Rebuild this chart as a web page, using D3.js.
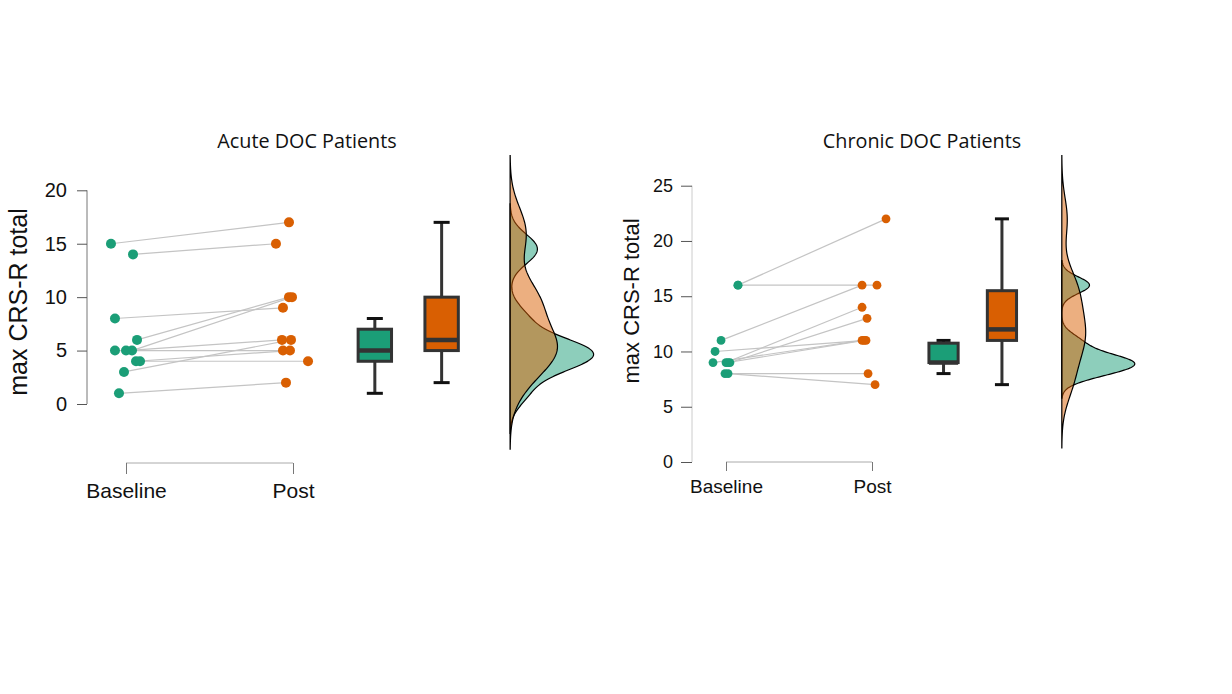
<!DOCTYPE html>
<html>
<head>
<meta charset="utf-8">
<script src="https://cdn.jsdelivr.net/npm/d3@7"></script>
<style>
body { margin: 0; background: #fff; }
text { font-family: "Liberation Sans", Arial, sans-serif; }
</style>
</head>
<body>
<div class="chart"></div>
<script>
var groups = ["Baseline", "Post"];

// acute patients, one entry per patient (baseline -> post)
var acuteBaseline = [15, 14, 8, 6, 5, 5, 5, 4, 4, 3, 1];
var acutePost     = [17, 15, 9, 10, 10, 6, 5, 5, 4, 6, 2];
var acuteJitterBaseline = [-0.090, 0.042, -0.066, 0.066, 0.036, 0, -0.066, 0.060, 0.084, -0.012, -0.042];
var acuteJitterPost     = [-0.024, -0.102, -0.060, -0.024, -0.006, -0.066, -0.060, -0.018, 0.090, -0.012, -0.042];
var acuteTicks = [0, 5, 10, 15, 20];

// chronic patients
var chronicBaseline = [16, 16, 11, 10, 9, 9, 9, 9, 8, 8];
var chronicPost     = [22, 16, 16, 11, 14, 13, 11, 11, 8, 7];
var chronicJitterBaseline = [0.082, 0.082, -0.034, -0.075, 0, 0.027, -0.089, 0.014, -0.007, 0.014];
var chronicJitterPost     = [0.096, 0.034, -0.068, -0.041, -0.068, -0.034, -0.068, -0.055, -0.027, 0.021];
var chronicTicks = [0, 5, 10, 15, 20, 25];

var green = "#1b9e77", orange = "#d95f02";

var svg = d3.select(".chart").append("svg")
    .attr("width", 1232)
    .attr("height", 694);

// R style bw.nrd0 + gaussian kde, cut = 3
function kde(values) {
    var s = values.slice().sort(d3.ascending);
    var iqr = d3.quantile(s, 0.75) - d3.quantile(s, 0.25);
    var bw = 0.9 * Math.min(d3.deviation(s), iqr / 1.34) * Math.pow(s.length, -0.2);
    var lo = s[0] - 3 * bw, hi = s[s.length - 1] + 3 * bw;
    var out = [];
    for (var i = 0; i <= 300; i++) {
        var v = lo + (hi - lo) * i / 300;
        var dens = d3.sum(s, function(d) {
            var z = (v - d) / bw;
            return Math.exp(-0.5 * z * z);
        }) / (s.length * bw * Math.sqrt(2 * Math.PI));
        out.push([v, dens]);
    }
    return out;
}

function boxStats(values) {
    var s = values.slice().sort(d3.ascending);
    var q1 = d3.quantile(s, 0.25), med = d3.quantile(s, 0.5), q3 = d3.quantile(s, 0.75);
    var iqr = q3 - q1;
    return {
        q1: q1, med: med, q3: q3,
        lo: d3.min(s.filter(function(d) { return d >= q1 - 1.5 * iqr; })),
        hi: d3.max(s.filter(function(d) { return d <= q3 + 1.5 * iqr; }))
    };
}

function panel(cfg) {
    var g = svg.append("g");
    var x = d3.scaleLinear().domain([0, 1]).range(cfg.xRange);
    var y = d3.scaleLinear().domain([0, d3.max(cfg.ticks)]).range(cfg.yRange);
    var unit = x(1) - x(0);

    // title
    g.append("text")
        .attr("x", cfg.titleX).attr("y", 148)
        .attr("text-anchor", "middle")
        .style("font-family", "'Open Sans', sans-serif")
        .style("font-size", "19.8px")
        .attr("fill", "#111")
        .text(cfg.title);

    // y axis
    var yAxis = g.append("g")
        .attr("transform", "translate(" + cfg.yAxisX + ",0)")
        .call(d3.axisLeft(y).tickValues(cfg.ticks).tickSize(cfg.tickLen).tickPadding(cfg.tickPad));
    yAxis.select(".domain").attr("stroke", cfg.yDomainColor).attr("d", "M0," + y(0) + "V" + y(d3.max(cfg.ticks)));
    yAxis.selectAll(".tick line").attr("stroke", "#555");
    yAxis.selectAll("text").style("font-size", cfg.tickFont + "px").attr("fill", "#111");

    g.append("text")
        .attr("transform", "translate(" + cfg.yLabelX + "," + cfg.yLabelY + ") rotate(-90)")
        .attr("text-anchor", "middle")
        .style("font-size", cfg.yLabelFont + "px")
        .attr("fill", "#111")
        .text("max CRS-R total");

    // x axis
    var xs = d3.scalePoint().domain(groups).range([x(0), x(1)]);
    var xAxis = g.append("g")
        .attr("transform", "translate(0," + cfg.xAxisY + ")")
        .call(d3.axisBottom(xs).tickSize(cfg.xTickLen).tickPadding(cfg.xTickPad).tickSizeOuter(0));
    xAxis.select(".domain").attr("stroke", "#aaa").attr("d", "M" + x(0) + ",0H" + x(1));
    xAxis.selectAll(".tick line").attr("stroke", "#777");
    xAxis.selectAll("text").style("font-size", cfg.xFont + "px").attr("fill", "#111");

    // paired lines
    var pairs = cfg.base.map(function(b, i) {
        return {b: b, p: cfg.post[i], jb: cfg.jb[i], jp: cfg.jp[i]};
    });
    g.selectAll(".pair").data(pairs).enter().append("line")
        .attr("x1", function(d) { return x(0 + d.jb); })
        .attr("y1", function(d) { return y(d.b); })
        .attr("x2", function(d) { return x(1 + d.jp); })
        .attr("y2", function(d) { return y(d.p); })
        .attr("stroke", "#c4c4c4").attr("stroke-width", 1.2);

    g.selectAll(".pb").data(pairs).enter().append("circle")
        .attr("cx", function(d) { return x(0 + d.jb); })
        .attr("cy", function(d) { return y(d.b); })
        .attr("r", cfg.r).attr("fill", green);
    g.selectAll(".pp").data(pairs).enter().append("circle")
        .attr("cx", function(d) { return x(1 + d.jp); })
        .attr("cy", function(d) { return y(d.p); })
        .attr("r", cfg.r).attr("fill", orange);

    // boxplots
    [[cfg.base, green, 1.49], [cfg.post, orange, 1.89]].forEach(function(b) {
        var st = boxStats(b[0]), cx = x(b[2]), hw = 0.1 * unit, cw = 0.048 * unit;
        g.append("line").attr("x1", cx).attr("x2", cx).attr("y1", y(st.hi)).attr("y2", y(st.q3))
            .attr("stroke", "#333").attr("stroke-width", 3);
        g.append("line").attr("x1", cx).attr("x2", cx).attr("y1", y(st.q1)).attr("y2", y(st.lo))
            .attr("stroke", "#333").attr("stroke-width", 3);
        [st.hi, st.lo].forEach(function(v) {
            g.append("line").attr("x1", cx - cw).attr("x2", cx + cw).attr("y1", y(v)).attr("y2", y(v))
                .attr("stroke", "#111").attr("stroke-width", 3);
        });
        g.append("rect").attr("x", cx - hw).attr("width", 2 * hw)
            .attr("y", y(st.q3)).attr("height", y(st.q1) - y(st.q3))
            .attr("fill", b[1]).attr("stroke", "#333").attr("stroke-width", 3);
        g.append("line").attr("x1", cx - hw).attr("x2", cx + hw).attr("y1", y(st.med)).attr("y2", y(st.med))
            .attr("stroke", "#333").attr("stroke-width", 4.5);
    });

    // half densities
    var dens = [[kde(cfg.base), "rgba(27,158,119,0.5)"], [kde(cfg.post), "rgba(217,95,2,0.5)"]];
    var dmax = d3.max(dens, function(d) { return d3.max(d[0], function(p) { return p[1]; }); });
    var w = d3.scaleLinear().domain([0, dmax]).range([0, 0.5 * unit]);
    var x0 = x(2.3);
    var area = d3.area()
        .y(function(d) { return y(d[0]); })
        .x0(x0)
        .x1(function(d) { return x0 + w(d[1]); });
    dens.forEach(function(d) {
        g.append("path").attr("d", area(d[0]))
            .attr("fill", d[1]).attr("stroke", "#000").attr("stroke-width", 1.2);
    });
}

panel({
    title: "Acute DOC Patients", titleX: 307,
    base: acuteBaseline, post: acutePost, jb: acuteJitterBaseline, jp: acuteJitterPost,
    ticks: acuteTicks,
    xRange: [126, 293], yRange: [404, 190.3],
    yAxisX: 87, tickLen: 10, tickPad: 10, tickFont: 20, yDomainColor: "#777",
    yLabelX: 27, yLabelY: 302, yLabelFont: 25,
    xAxisY: 463, xTickLen: 11, xTickPad: 9, xFont: 21,
    r: 5
});

panel({
    title: "Chronic DOC Patients", titleX: 922,
    base: chronicBaseline, post: chronicPost, jb: chronicJitterBaseline, jp: chronicJitterPost,
    ticks: chronicTicks,
    xRange: [726, 872], yRange: [462, 185.7],
    yAxisX: 692, tickLen: 11, tickPad: 8, tickFont: 18, yDomainColor: "#ccc",
    yLabelX: 639, yLabelY: 301, yLabelFont: 22,
    xAxisY: 462, xTickLen: 9, xTickPad: 9, xFont: 19,
    r: 4.4
});
</script>
</body>
</html>
